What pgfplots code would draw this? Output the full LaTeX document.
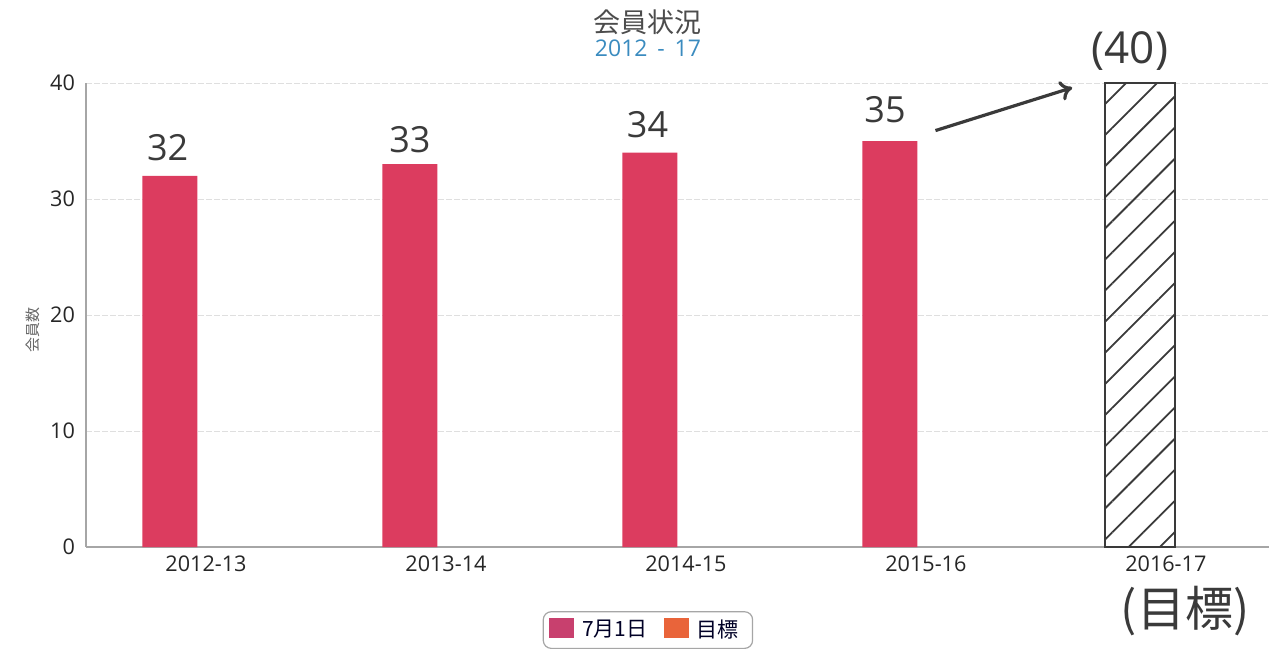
\documentclass[border=0pt]{standalone}
\usepackage{pgfplots}
\pgfplotsset{compat=1.18}
\usepackage{fontspec}
\setmainfont{Open Sans}
\newfontfamily\cjk{Noto Sans CJK JP}
\usetikzlibrary{patterns.meta,arrows.meta}
\definecolor{barred}{HTML}{DC3C5F}
\definecolor{legmag}{HTML}{C8406E}
\definecolor{legorg}{HTML}{E9643A}
\definecolor{subblue}{HTML}{3A8BBF}
\definecolor{hand}{HTML}{3A3A3A}
\begin{document}
\begin{tikzpicture}
\path[use as bounding box] (0,0) rectangle (634.5pt,324.5pt);
\begin{axis}[
  at={(43pt,51pt)}, anchor=south west,
  scale only axis, width=591.5pt, height=232pt,
  xmin=-0.5, xmax=4.43, ymin=0, ymax=40,
  clip=false,
  axis x line=bottom, axis y line=left,
  axis line style={gray!70, line width=0.9pt, -},
  xtick={0,1,2,3,4},
  xticklabels={2012-13,2013-14,2014-15,2015-16,2016-17},
  ytick={0,10,20,30,40},
  major tick length=0pt,
  ymajorgrids,
  grid style={gray!25, line width=0.5pt, dash pattern=on 3pt off 1pt},
  tick label style={font=\fontsize{10.8}{12}\selectfont, text=black!85},
  /pgf/number format/assume math mode=true,
  xticklabel style={yshift=-1pt},
  yticklabel style={xshift=-2pt},
  legend style={at={(0.475,-0.179)}, anchor=center, draw=gray!70, rounded corners=4pt,
    line width=0.6pt, font=\cjk\fontsize{10.5}{12}\selectfont, text=black!75!blue!60!black,
    legend columns=2, /tikz/every even column/.append style={column sep=4pt},
    inner xsep=3pt, inner ysep=2pt,
    nodes={inner xsep=4pt}},
  legend image code/.code={\fill[#1, draw=none, sharp corners] (0pt,-4pt) rectangle (12.5pt,6pt);},
]
\addlegendimage{fill=legmag}
\addlegendentry{7月1日}
\addlegendimage{fill=legorg}
\addlegendentry{目標}
\addplot[ybar, bar width=27.5pt, bar shift=-18pt, fill=barred, draw=none, forget plot]
  coordinates {(0,32) (1,33) (2,34) (3,35)};
\addplot[ybar, bar width=35pt, bar shift=-13pt, draw=hand, line width=1pt,
  pattern={Lines[angle=45,distance=11pt,line width=0.9pt]}, pattern color=hand, forget plot]
  coordinates {(4,40)};
\node[text=hand, font=\fontsize{18}{22}\selectfont] at (axis cs:-0.16,34.4) {32};
\node[text=hand, font=\fontsize{18}{22}\selectfont] at (axis cs:0.85,35.1) {33};
\node[text=hand, font=\fontsize{18}{22}\selectfont] at (axis cs:1.84,36.4) {34};
\node[text=hand, font=\fontsize{18}{22}\selectfont] at (axis cs:2.83,37.7) {35};
\node[text=hand, font=\fontsize{22}{26}\selectfont] at (axis cs:3.85,42.8) {(40)};
\node[text=hand, font=\cjk\fontsize{24}{28}\selectfont] at (axis cs:4.08,-5.5) {(目標)};
\draw[-{To[length=6pt,width=10pt]}, line width=1.6pt, hand] (axis cs:3.04,35.9) -- (axis cs:3.61,39.6);
\node[font=\cjk\fontsize{13.5}{15}\selectfont, text=black!70] at (rel axis cs:0.475,1.131) {会員状況};
\node[font=\fontsize{11.5}{13}\selectfont, text=subblue] at (rel axis cs:0.475,1.075) {2012 \,-\, 17};
\node[rotate=90, font=\cjk\fontsize{7.5}{9}\selectfont, text=black!60] at (rel axis cs:-0.045,0.468) {会員数};
\end{axis}
\end{tikzpicture}
\end{document}
